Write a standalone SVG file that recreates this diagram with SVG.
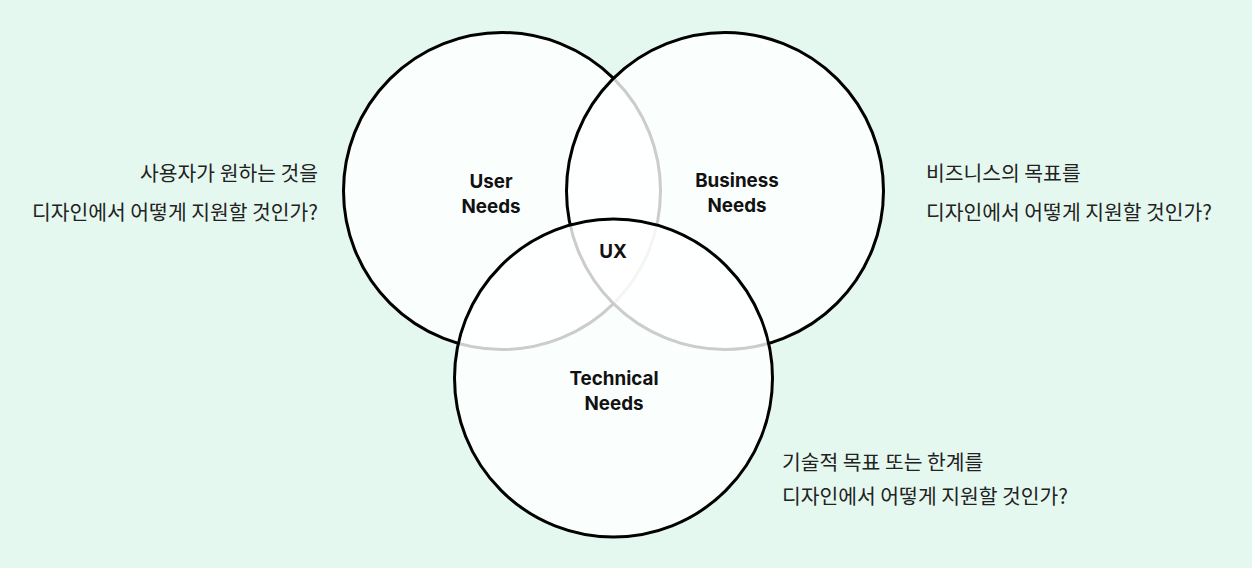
<svg xmlns="http://www.w3.org/2000/svg" width="1252" height="568" viewBox="0 0 1252 568">
<style>
.c{fill:#ffffff;fill-opacity:0.8;stroke:#000;stroke-width:3}
.t{font-family:Inter,"Noto Sans","Liberation Sans",sans-serif;font-weight:700;font-size:18.8px;fill:#111;text-anchor:middle}
.k{font-family:"Noto Sans CJK KR","Noto Sans",sans-serif;font-size:20.4px;fill:#222}
</style>
<rect x="0" y="0" width="1252" height="568" fill="#e5f8ef"/>
<g id="user-needs">
<circle class="c" cx="502" cy="191" r="158.5"/>
</g>
<g id="business-needs">
<circle class="c" cx="725" cy="191" r="158.5"/>
</g>
<g id="technical-needs">
<circle class="c" cx="613.5" cy="378" r="159"/>
</g>
<g id="labels">
<text class="t" x="491" y="188">User</text>
<text class="t" x="491" y="213">Needs</text>
<text class="t" x="737" y="187">Business</text>
<text class="t" x="737" y="212">Needs</text>
<text class="t" x="613" y="258">UX</text>
<text class="t" x="614" y="385">Technical</text>
<text class="t" x="614" y="410">Needs</text>
</g>
<g id="note-user">
<text class="k" x="318" y="181" text-anchor="end">사용자가 원하는 것을</text>
<text class="k" x="318" y="220" text-anchor="end">디자인에서 어떻게 지원할 것인가?</text>
</g>
<g id="note-business">
<text class="k" x="926" y="181">비즈니스의 목표를</text>
<text class="k" x="926" y="220">디자인에서 어떻게 지원할 것인가?</text>
</g>
<g id="note-technical">
<text class="k" x="782" y="470">기술적 목표 또는 한계를</text>
<text class="k" x="782" y="504">디자인에서 어떻게 지원할 것인가?</text>
</g>
<g id="connectors"></g>
</svg>
